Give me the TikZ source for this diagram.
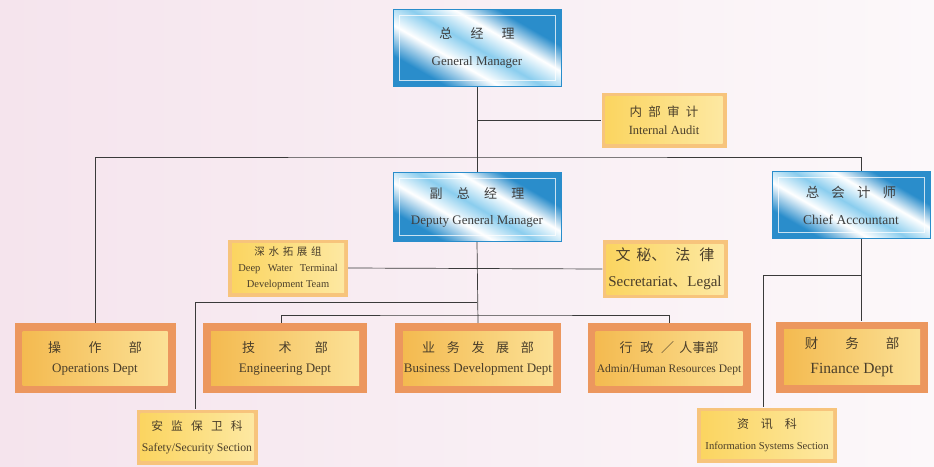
\documentclass[tikz,border=0pt]{standalone}
\usepackage{fontspec}
\setmainfont{Liberation Serif}
\newfontfamily\cjk{Noto Sans CJK SC}
\usetikzlibrary{calc}

\definecolor{bgpink}{HTML}{F5E4ED}
\definecolor{bgwhite}{HTML}{FCF8FA}
\definecolor{bluedark}{HTML}{2A8DCB}
\definecolor{bluemid}{HTML}{8ACDEE}
\definecolor{deptedge}{HTML}{EC975E}
\definecolor{deptgold}{HTML}{F3B84C}
\definecolor{deptlight}{HTML}{FCE39A}
\definecolor{secedge}{HTML}{F7C47C}
\definecolor{secfill}{HTML}{FBD45E}
\definecolor{seclight}{HTML}{FDE9A4}
\definecolor{textgray}{HTML}{3E3E3E}
\definecolor{textbrown}{HTML}{4A3E2A}
\definecolor{linegray}{HTML}{3A3A3A}

\pgfdeclarehorizontalshading{bluesheen}{100bp}{color(0bp)=(bluedark); color(28bp)=(bluedark); color(40bp)=(white); color(50bp)=(bluemid); color(60bp)=(white); color(70bp)=(bluedark); color(100bp)=(bluedark)}

\begin{document}
\begin{tikzpicture}[x=1pt, y=-1pt,
    bluebox/.style={shade, shading=bluesheen, shading angle=60, draw=bluedark, line width=0.6pt, text=textgray, align=center, inner sep=0pt,
      path picture={\draw[white, opacity=0.75, line width=0.8pt] ([shift={(6pt,-6pt)}]path picture bounding box.north west) rectangle ([shift={(-6pt,6pt)}]path picture bounding box.south east);}},
    deptbox/.style={fill=deptedge, text=textbrown, align=center, inner sep=0pt,
      path picture={\shade[left color=deptgold, right color=deptlight] ([shift={(8pt,-8pt)}]path picture bounding box.north west) rectangle ([shift={(-8pt,8pt)}]path picture bounding box.south east);}},
    secbox/.style={fill=secedge, text=textbrown, align=center, inner sep=0pt,
      path picture={\shade[left color=secfill, right color=seclight] ([shift={(4pt,-4pt)}]path picture bounding box.north west) rectangle ([shift={(-4pt,4pt)}]path picture bounding box.south east);}},
    link/.style={draw=linegray, line width=0.7pt}
]

% Background
\useasboundingbox (0,0) rectangle (934,466);
\shade[left color=bgpink, right color=bgwhite] (0,0) rectangle (934,466);

% Management
\node[bluebox, minimum width=168pt, minimum height=77pt, font=\fontsize{13}{27}\selectfont] (gm) at (477,48) {{\cjk 总\hspace{1.4em}经\hspace{1.4em}理}\\General Manager};
\node[secbox, minimum width=125pt, minimum height=55pt, font=\fontsize{12.5}{18}\selectfont] (audit) at (664,120) {{\cjk 内\hspace{0.5em}部\hspace{0.5em}审\hspace{0.5em}计}\\Internal Audit};
\node[bluebox, minimum width=168pt, minimum height=69pt, font=\fontsize{13}{26}\selectfont] (deputy) at (477,207) {{\cjk 副\hspace{1.1em}总\hspace{1.1em}经\hspace{1.1em}理}\\Deputy General Manager};
\node[bluebox, minimum width=158pt, minimum height=67pt, font=\fontsize{13.5}{27}\selectfont] (chief) at (851,205) {{\cjk 总\hspace{0.9em}会\hspace{0.9em}计\hspace{0.9em}师}\\Chief Accountant};

% Staff units
\node[secbox, minimum width=120pt, minimum height=57pt, font=\fontsize{10.5}{16}\selectfont] (deep) at (288,268) {{\cjk 深\hspace{0.35em}水\hspace{0.35em}拓\hspace{0.35em}展\hspace{0.35em}组}\\Deep\hspace{0.7em}Water\hspace{0.7em}Terminal\\Development Team};
\node[secbox, minimum width=125pt, minimum height=58pt, font=\fontsize{15}{26}\selectfont] (secr) at (665,269) {{\cjk 文\hspace{0.4em}秘、\hspace{0.6em}法\hspace{0.6em}律}\\Secretariat{\cjk 、}Legal};

% Departments
\node[deptbox, minimum width=161pt, minimum height=70pt, font=\fontsize{13}{20}\selectfont] (ops) at (95,358) {{\cjk 操\hspace{2.1em}作\hspace{2.1em}部}\\Operations Dept};
\node[deptbox, minimum width=164pt, minimum height=70pt, font=\fontsize{13}{20}\selectfont] (eng) at (285,358) {{\cjk 技\hspace{1.8em}术\hspace{1.8em}部}\\Engineering Dept};
\node[deptbox, minimum width=166pt, minimum height=70pt, font=\fontsize{13}{20}\selectfont] (bus) at (478,358) {{\cjk 业\hspace{0.9em}务\hspace{0.9em}发\hspace{0.9em}展\hspace{0.9em}部}\\Business Development Dept};
\node[deptbox, minimum width=163pt, minimum height=70pt, font=\fontsize{11.5}{20}\selectfont] (adm) at (669,358) {{\cjk\fontsize{13}{20}\selectfont 行\hspace{0.6em}政\hspace{0.6em}／\hspace{0.4em}人事部}\\Admin/Human Resources Dept};
\node[deptbox, minimum width=152pt, minimum height=71pt, font=\fontsize{15.5}{25}\selectfont] (fin) at (852,357) {{\cjk\fontsize{13.5}{25}\selectfont 财\hspace{2em}务\hspace{2em}部}\\Finance Dept};

% Sections
\node[secbox, minimum width=121pt, minimum height=55pt, font=\fontsize{11.7}{21}\selectfont] (safety) at (197,437) {{\cjk 安\hspace{0.7em}监\hspace{0.7em}保\hspace{0.7em}卫\hspace{0.7em}科}\\Safety/Security Section};
\node[secbox, minimum width=140pt, minimum height=55pt, font=\fontsize{10.6}{21}\selectfont] (info) at (767,435) {{\cjk\fontsize{12}{21}\selectfont 资\hspace{1em}讯\hspace{1em}科}\\Information Systems Section};

% Connectors
\coordinate (hub) at (477,157);
\coordinate (sbar) at (477,302);
\coordinate (dbar) at (477,315);
\coordinate (ibar) at (861,275);

\draw[link] (gm.south) -- (deputy.north);
\draw[link] (gm.south |- audit.west) -- (audit.west);
\draw[link] (ops.north) |- (hub) -| ([xshift=10pt]chief.north);
\draw[link] (deep.east) -- (secr.west);
\draw[link] (deputy.south) -- (bus.north);
\draw[link] (sbar) -| ([xshift=-2pt]safety.north);
\draw[link] ([xshift=-4pt]eng.north) |- (dbar) -| (adm.north);
\draw[link] ([xshift=10pt]chief.south) -- ([xshift=10pt]chief.south |- fin.north);
\draw[link] (ibar) -| ([xshift=-4pt]info.north);

\end{tikzpicture}
\end{document}
